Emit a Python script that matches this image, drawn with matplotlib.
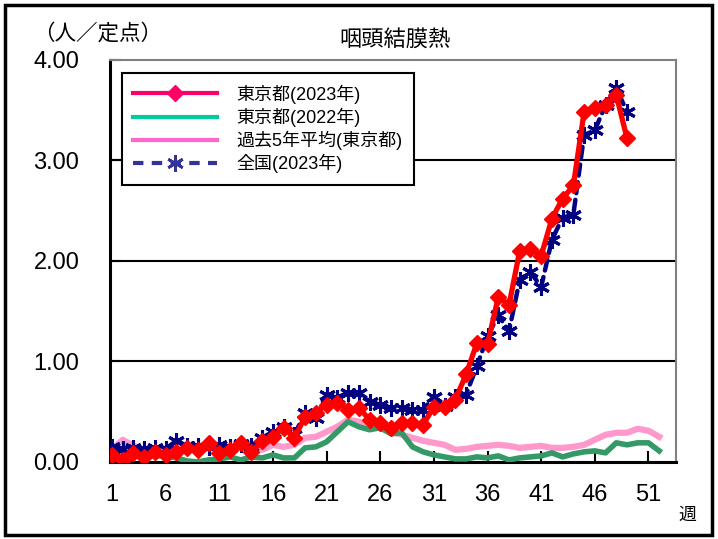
import matplotlib
matplotlib.use("Agg")
import matplotlib.pyplot as plt
from matplotlib.lines import Line2D
from matplotlib.patches import Rectangle
import numpy as np

plt.rcParams['font.family'] = ['Liberation Sans', 'Noto Sans CJK JP', 'DejaVu Sans']

# 週別 定点当たり報告数
weeks_2023 = list(range(1, 50))
weeks_full = list(range(1, 53))

tokyo_2023 = [0.07, 0.02, 0.09, 0.05, 0.10, 0.07, 0.10, 0.14, 0.12, 0.19,
              0.09, 0.12, 0.19, 0.10, 0.21, 0.25, 0.34, 0.24, 0.45, 0.49,
              0.57, 0.59, 0.52, 0.54, 0.42, 0.39, 0.34, 0.39, 0.39, 0.37,
              0.55, 0.55, 0.62, 0.87, 1.18, 1.17, 1.64, 1.56, 2.10, 2.12,
              2.05, 2.42, 2.62, 2.75, 3.48, 3.52, 3.55, 3.65, 3.22]

national_2023 = [0.15, 0.13, 0.14, 0.13, 0.14, 0.13, 0.21, 0.16, 0.16, 0.15,
                 0.17, 0.15, 0.18, 0.16, 0.24, 0.30, 0.35, 0.27, 0.49, 0.44,
                 0.67, 0.64, 0.69, 0.69, 0.60, 0.57, 0.54, 0.54, 0.52, 0.52,
                 0.65, 0.56, 0.65, 0.67, 0.95, 1.25, 1.46, 1.30, 1.81, 1.89,
                 1.74, 2.21, 2.43, 2.46, 3.25, 3.30, 3.55, 3.72, 3.48]

tokyo_2022 = [0.10, 0.10, 0.08, 0.07, 0.06, 0.06, 0.04, 0.01, 0.00, 0.02,
              0.03, 0.05, 0.02, 0.05, 0.04, 0.07, 0.04, 0.04, 0.14, 0.15,
              0.20, 0.30, 0.40, 0.35, 0.32, 0.34, 0.28, 0.29, 0.15, 0.10,
              0.07, 0.05, 0.03, 0.03, 0.05, 0.04, 0.06, 0.02, 0.04, 0.05,
              0.06, 0.09, 0.05, 0.08, 0.10, 0.11, 0.09, 0.19, 0.17, 0.19,
              0.19, 0.11]

past5_avg = [0.12, 0.22, 0.16, 0.11, 0.12, 0.13, 0.13, 0.14, 0.13, 0.14,
             0.14, 0.14, 0.14, 0.15, 0.12, 0.17, 0.15, 0.17, 0.24, 0.25,
             0.30, 0.35, 0.42, 0.40, 0.37, 0.34, 0.30, 0.27, 0.24, 0.21,
             0.19, 0.17, 0.12, 0.13, 0.15, 0.16, 0.17, 0.16, 0.14, 0.15,
             0.16, 0.14, 0.14, 0.15, 0.17, 0.22, 0.27, 0.29, 0.29, 0.33,
             0.31, 0.25]

xticks = list(range(1, 53, 5))
yticks = [0, 1, 2, 3, 4]

fig = plt.figure(figsize=(7.18, 5.39), dpi=100)
ax = fig.add_axes([0.153, 0.143, 0.789, 0.746])

ax.plot(weeks_full, past5_avg, color='#FF99CC', lw=4.5, solid_joinstyle='round', zorder=2)
ax.plot(weeks_full, tokyo_2022, color='#339966', lw=4.0, solid_joinstyle='round', zorder=3)
ax.plot(weeks_2023, national_2023, color='#000080', lw=3.2, ls=(0, (2.5, 1.5)),
        dash_capstyle='round', marker=(6, 2, 0), ms=12, mew=2.2, zorder=4)
ax.plot(weeks_2023, tokyo_2023, color='#FF0000', lw=3.8, marker='D', ms=8,
        solid_joinstyle='round', zorder=5)

ax.set_xlim(0.8, 53.6)
ax.set_ylim(0, 4)
ax.set_xticks(xticks)
ax.set_yticks(yticks)
ax.set_yticklabels(['%.2f' % v for v in yticks])
ax.tick_params(axis='both', direction='in', length=8, width=1.5, labelsize=17)
ax.tick_params(axis='x', pad=16)
ax.tick_params(axis='y', pad=22)
for y in [1, 2, 3]:
    ax.axhline(y, color='black', lw=1.5, zorder=1)

ax.spines['left'].set_linewidth(2.2)
ax.spines['bottom'].set_linewidth(2.2)
ax.spines['top'].set_color('#808080')
ax.spines['right'].set_color('#808080')
ax.spines['top'].set_linewidth(1.5)
ax.spines['right'].set_linewidth(1.5)

handles = [
    Line2D([], [], color='#FF0066', lw=3, marker='D', ms=8),
    Line2D([], [], color='#00CC99', lw=3),
    Line2D([], [], color='#FF66CC', lw=3),
    Line2D([], [], color='#333399', lw=3, ls=(0, (2.5, 2)), marker=(6, 2, 0), ms=12, mew=2),
]
labels = ['東京都(2023年)', '東京都(2022年)', '過去5年平均(東京都)', '全国(2023年)']
leg = ax.legend(handles, labels, loc='upper left', bbox_to_anchor=(0.021, 0.968),
                borderaxespad=0, fontsize=13, handlelength=4.6, handletextpad=1.1,
                labelspacing=0.22, borderpad=0.65, fancybox=False, framealpha=1,
                edgecolor='black')
leg.get_frame().set_linewidth(1.5)

fig.text(0.55, 0.928, '咽頭結膜熱', ha='center', va='center', fontsize=16,
         family=['Noto Sans CJK JP'])
fig.text(0.046, 0.938, '（人／定点）', ha='left', va='center', fontsize=15.5,
         family=['Noto Sans CJK JP'])
fig.text(0.945, 0.045, '週', ha='left', va='center', fontsize=13,
         family=['Noto Sans CJK JP'])

fig.add_artist(Rectangle((0.007, 0.008), 0.985, 0.982, transform=fig.transFigure,
                         fill=False, edgecolor='black', lw=2.5))

fig.savefig('out.png', dpi=100)
